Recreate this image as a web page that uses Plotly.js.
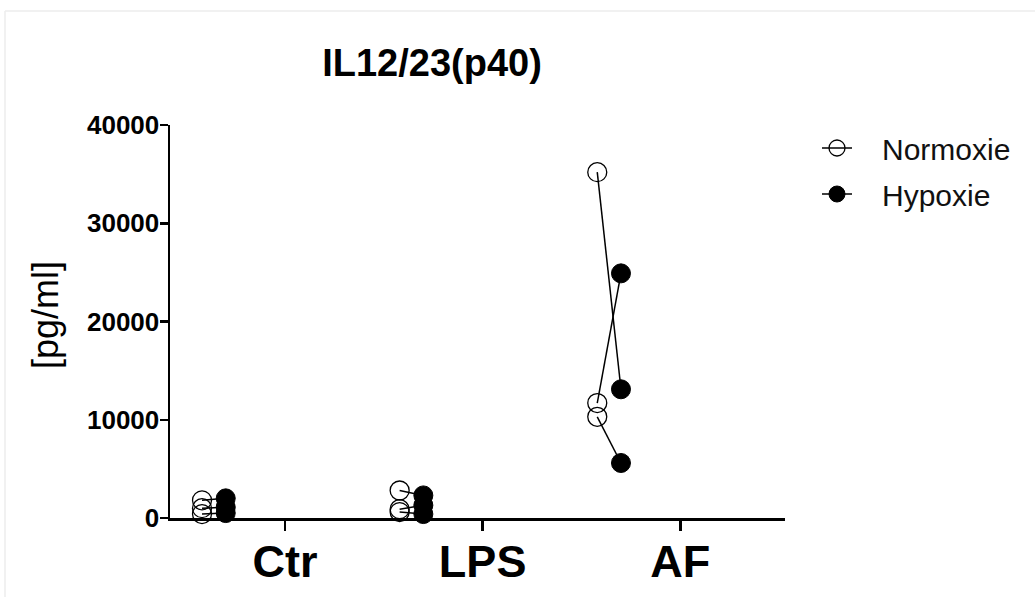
<!DOCTYPE html>
<html>
<head>
<meta charset="utf-8">
<script src="https://cdn.plot.ly/plotly-3.0.1.min.js"></script>
<style>html,body{margin:0;padding:0;background:#fff;}#chart{width:1035px;height:597px;}</style>
</head>
<body>
<div id="chart"></div>
<script>
const categories = ['Ctr', 'LPS', 'AF'];
const seriesNames = ['Normoxie', 'Hypoxie'];
// three replicates per category; replicate i of Normoxie is paired with replicate i of Hypoxie
const normoxieCtr = [1800, 1000, 400];
const normoxieLPS = [2800, 900, 600];
const normoxieAF = [35200, 11700, 10300];
const hypoxieCtr = [2000, 1100, 500];
const hypoxieLPS = [2300, 1300, 400];
const hypoxieAF = [13100, 24900, 5600];
const yTicks = [0, 10000, 20000, 30000, 40000];

const normoxie = [normoxieCtr, normoxieLPS, normoxieAF];
const hypoxie = [hypoxieCtr, hypoxieLPS, hypoxieAF];
const offN = -0.42, offH = -0.30;
const pad = '\u00a0\u00a0\u00a0';

const pairX = [], pairY = [];
const nX = [], nY = [], hX = [], hY = [];
categories.forEach((c, ci) => {
  normoxie[ci].forEach((v, i) => {
    const h = hypoxie[ci][i];
    pairX.push(ci + offN, ci + offH, null);
    pairY.push(v, h, null);
    nX.push(ci + offN, null); nY.push(v, null);
    hX.push(ci + offH, null); hY.push(h, null);
  });
});

const traces = [
  {x: pairX, y: pairY, mode: 'lines', line: {color: '#000', width: 1.5}, showlegend: false, hoverinfo: 'skip', cliponaxis: false},
  {x: nX, y: nY, name: pad + seriesNames[0], legendgroup: 'n', mode: 'lines+markers', connectgaps: false,
   line: {color: '#000', width: 1.5},
   marker: {symbol: 'circle', size: 19, color: 'rgba(255,255,255,0)', line: {color: '#000', width: 1.3}}, cliponaxis: false},
  {x: hX, y: hY, name: pad + seriesNames[1], legendgroup: 'h', mode: 'lines+markers', connectgaps: false,
   line: {color: '#000', width: 1.5},
   marker: {symbol: 'circle', size: 19, color: '#000', line: {color: '#000', width: 1}}, cliponaxis: false}
];

const layout = {
  width: 1035, height: 597,
  margin: {l: 170, r: 250, t: 125, b: 79},
  paper_bgcolor: '#fff', plot_bgcolor: '#fff',
  font: {family: '"Liberation Sans", Arial, sans-serif', color: '#000'},
  title: {text: '<b>IL12/23(p40)</b>', font: {size: 38, color: '#000'}, x: 432/1035, xanchor: 'center', xref: 'container',
          y: 1 - 63/597, yanchor: 'middle', yref: 'container'},
  xaxis: {
    range: [-0.582, 2.53], tickvals: [0, 1, 2], ticktext: categories.map(c => '<b>' + c + '</b>'),
    showline: true, linecolor: '#000', linewidth: 2.5, ticks: 'outside', ticklen: 10, tickwidth: 2.5, tickcolor: '#000',
    tickfont: {size: 45, color: '#000'}, ticklabelstandoff: -8, showgrid: false, zeroline: false, fixedrange: true
  },
  yaxis: {
    range: [0, 40000], tickvals: yTicks, ticktext: yTicks.map(t => '<b>' + t + '</b>'),
    showline: true, linecolor: '#000', linewidth: 2.5, ticks: 'outside', ticklen: 8, tickwidth: 2.5, tickcolor: '#000',
    tickfont: {size: 26, color: '#000'}, ticklabelstandoff: -5, showgrid: false, zeroline: false, fixedrange: true
  },
  legend: {x: (817-170)/615, xanchor: 'left', y: (518-122)/393, yanchor: 'top', font: {size: 30, color: '#111'},
           traceorder: 'grouped', tracegroupgap: 4, bgcolor: 'rgba(0,0,0,0)'},
  annotations: [{text: '[pg/ml]', xref: 'paper', yref: 'paper', x: (45-170)/615, y: (518-315)/393,
                 xanchor: 'center', yanchor: 'middle', textangle: -90, showarrow: false, font: {size: 36, color: '#000'}}],
  shapes: [
    {type: 'line', xref: 'paper', yref: 'paper', x0: (5-170)/615, x1: (1035-170)/615, y0: (518-11)/393, y1: (518-11)/393, line: {color: '#ececec', width: 1.5}},
    {type: 'line', xref: 'paper', yref: 'paper', x0: (5-170)/615, x1: (5-170)/615, y0: (518-11)/393, y1: (518-597)/393, line: {color: '#ececec', width: 1.5}}
  ]
};

Plotly.newPlot('chart', traces, layout, {displayModeBar: false, staticPlot: true});
</script>
</body>
</html>
